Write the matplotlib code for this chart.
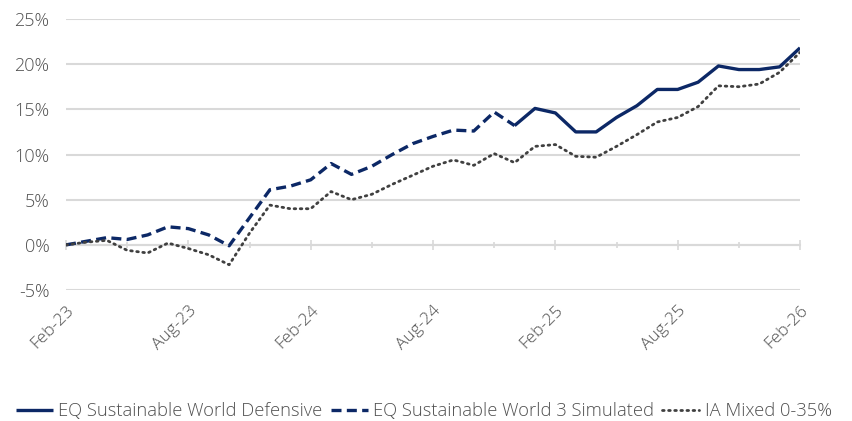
import matplotlib.pyplot as plt
import matplotlib.ticker as mticker
import numpy as np

# monthly points, Feb-23 .. Feb-26
months = ["Feb-23", "Mar-23", "Apr-23", "May-23", "Jun-23", "Jul-23", "Aug-23", "Sep-23",
          "Oct-23", "Nov-23", "Dec-23", "Jan-24", "Feb-24", "Mar-24", "Apr-24", "May-24",
          "Jun-24", "Jul-24", "Aug-24", "Sep-24", "Oct-24", "Nov-24", "Dec-24", "Jan-25",
          "Feb-25", "Mar-25", "Apr-25", "May-25", "Jun-25", "Jul-25", "Aug-25", "Sep-25",
          "Oct-25", "Nov-25", "Dec-25", "Jan-26", "Feb-26"]

nan = np.nan
defensive = [nan]*22 + [13.2, 15.1, 14.6, 12.5, 12.5, 14.1, 15.4, 17.2, 17.2, 18.0,
                        19.8, 19.4, 19.4, 19.7, 21.8]
simulated = [0.0, 0.4, 0.8, 0.6, 1.1, 2.0, 1.8, 1.1, -0.1, 3.0, 6.1, 6.5, 7.2, 9.0,
             7.8, 8.7, 10.0, 11.2, 12.0, 12.7, 12.6, 14.7, 13.2] + [nan]*14
ia_mixed = [0.0, 0.3, 0.5, -0.6, -0.9, 0.2, -0.4, -1.1, -2.2, 1.3, 4.4, 4.0, 4.0, 5.9,
            5.0, 5.6, 6.7, 7.7, 8.7, 9.4, 8.8, 10.1, 9.1, 10.9, 11.1, 9.8, 9.7, 10.9,
            12.2, 13.6, 14.1, 15.3, 17.6, 17.5, 17.8, 19.1, 21.3]

navy = "#0c2866"
grey_txt = "#505050"
grid_c = "#d9d9d9"

plt.rcParams['font.family'] = ['Open Sans', 'DejaVu Sans']
plt.rcParams['font.weight'] = 'light'

fig = plt.figure(figsize=(8.53, 4.21), dpi=100)
ax = fig.add_axes([0.0774, 0.311, 0.8605, 0.644])

x = np.arange(len(months))
ax.plot(x, defensive, color=navy, lw=2.4, solid_capstyle='butt',
        label="EQ Sustainable World Defensive")
ax.plot(x, simulated, color=navy, lw=2.4, ls=(0, (3, 1.6)),
        label="EQ Sustainable World 3 Simulated")
ax.plot(x, ia_mixed, color="#404040", lw=2.0, ls=(0, (0.6, 1.6)), dash_capstyle='round',
        label="IA Mixed 0-35%")

ax.set_xlim(0, len(months) - 1)
ax.set_ylim(-5, 25)
ax.yaxis.set_major_locator(mticker.MultipleLocator(5))
ax.yaxis.set_major_formatter(mticker.FuncFormatter(lambda v, p: f"{v:.0f}%"))
ax.grid(axis='y', color=grid_c, lw=1.5)
ax.set_axisbelow(True)
for s in ax.spines.values():
    s.set_visible(False)
ax.tick_params(axis='y', length=0, pad=12, labelsize=13, labelcolor=grey_txt)

# date labels at the bottom
ax.set_xticks(x[::6])
ax.set_xticklabels(months[::6], rotation=45, ha='right', rotation_mode='anchor')
ax.tick_params(axis='x', length=0, pad=9, labelsize=12.5, labelcolor=grey_txt)

# tick marks sitting on the 0% line
sec = ax.secondary_xaxis(1/6)
sec.set_xticks(x[::6])
sec.set_xticks(x[3::6], minor=True)
sec.tick_params(axis='x', which='major', length=7, width=1.2, color=grid_c,
                direction='inout', labelbottom=False)
sec.tick_params(axis='x', which='minor', length=4, width=1.2, color=grid_c,
                direction='inout')
sec.set_xticklabels([])
sec.spines['bottom'].set_color(grid_c)
sec.spines['bottom'].set_linewidth(1.5)

fig.legend(loc='lower center', bbox_to_anchor=(0.497, -0.038), ncol=3, frameon=False,
           fontsize=13.2, handlelength=2.0, handletextpad=0.3, columnspacing=0.45,
           labelcolor=grey_txt)

fig.savefig("out.png", dpi=100)
